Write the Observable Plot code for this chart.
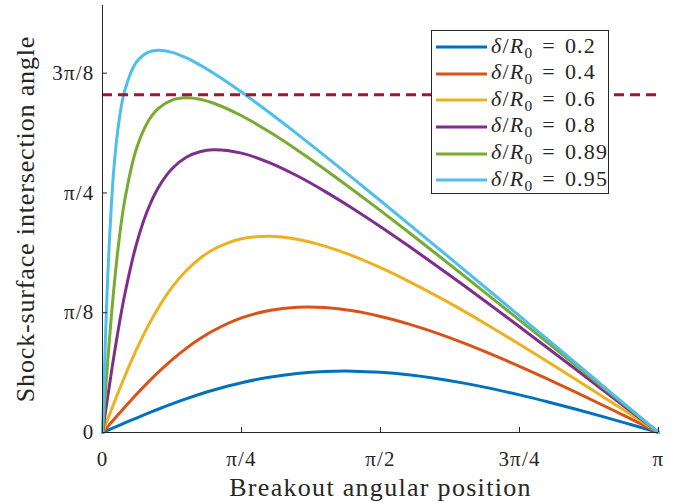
<!DOCTYPE html>
<html>
<head>
<meta charset="utf-8">
<script src="https://cdn.jsdelivr.net/npm/d3@7"></script>
<script src="https://cdn.jsdelivr.net/npm/@observablehq/plot@0.6"></script>
<style>
  body { margin: 0; background: #fff; }
  #chart { position: relative; width: 691px; height: 502px; font-family: "Liberation Serif", serif; color: #262626; }
  #legend {
    position: absolute; left: 431px; top: 30px; width: 178px; height: 164px;
    box-sizing: border-box; border: 1px solid #262626; background: #fff; padding-top: 3px;
  }
  .row { display: flex; align-items: center; height: 26.6px; }
  .row svg { margin-left: 4px; flex: none; }
  .row .lbl { margin-left: 4px; font-size: 22px; letter-spacing: 1.2px; white-space: nowrap; }
  .row .eq { margin: 0 9px; }
</style>
</head>
<body>
<div id="chart"></div>
<script>
// Breakout position θ, in units of π
const thetaOverPi = [0, 0.005, 0.01, 0.02, 0.03, 0.04, 0.06, 0.08, 0.10, 0.125, 0.15, 0.175, 0.2, 0.25, 0.3, 0.35, 0.4, 0.45, 0.5, 0.55, 0.6, 0.65, 0.7, 0.75, 0.8, 0.85, 0.9, 0.95, 1];

// Shock-surface intersection angle (rad) for each offset δ/R0
const angle02  = [0, 0.0039, 0.0079, 0.0157, 0.0235, 0.0313, 0.0466, 0.0616, 0.0762, 0.0936, 0.1100, 0.1253, 0.1393, 0.1633, 0.1813, 0.1935, 0.2000, 0.2012, 0.1974, 0.1893, 0.1773, 0.1619, 0.1438, 0.1233, 0.1008, 0.0769, 0.0519, 0.0261, 0];
const angle04  = [0, 0.0105, 0.0209, 0.0418, 0.0625, 0.0829, 0.1228, 0.1610, 0.1969, 0.2382, 0.2750, 0.3071, 0.3345, 0.3757, 0.4002, 0.4107, 0.4095, 0.3989, 0.3805, 0.3560, 0.3265, 0.2930, 0.2562, 0.2170, 0.1758, 0.1331, 0.0893, 0.0448, 0];
const angle06  = [0, 0.0236, 0.0471, 0.0936, 0.1393, 0.1837, 0.2673, 0.3422, 0.4076, 0.4757, 0.5295, 0.5706, 0.6008, 0.6351, 0.6434, 0.6337, 0.6111, 0.5792, 0.5404, 0.4965, 0.4486, 0.3978, 0.3445, 0.2895, 0.2331, 0.1757, 0.1175, 0.0589, 0];
const angle08  = [0, 0.0627, 0.1248, 0.2442, 0.3543, 0.4524, 0.6107, 0.7237, 0.8020, 0.8650, 0.9017, 0.9206, 0.9271, 0.9160, 0.8849, 0.8417, 0.7907, 0.7346, 0.6747, 0.6122, 0.5478, 0.4818, 0.4147, 0.3467, 0.2781, 0.2090, 0.1395, 0.0698, 0];
const angle089 = [0, 0.1263, 0.2479, 0.4637, 0.6339, 0.7615, 0.9247, 1.0134, 1.0616, 1.0898, 1.0973, 1.0924, 1.0794, 1.0385, 0.9858, 0.9263, 0.8625, 0.7959, 0.7273, 0.6572, 0.5861, 0.5141, 0.4416, 0.3686, 0.2953, 0.2217, 0.1479, 0.0740, 0];
const angle095 = [0, 0.2894, 0.5340, 0.8550, 1.0257, 1.1210, 1.2117, 1.2449, 1.2532, 1.2463, 1.2288, 1.2053, 1.1779, 1.1163, 1.0493, 0.9792, 0.9072, 0.8339, 0.7598, 0.6850, 0.6097, 0.5341, 0.4582, 0.3821, 0.3058, 0.2295, 0.1530, 0.0765, 0];

const offsets = ["0.2", "0.4", "0.6", "0.8", "0.89", "0.95"];
const seriesAngles = [angle02, angle04, angle06, angle08, angle089, angle095];
const seriesColors = ["#0072BD", "#D95319", "#EDB120", "#7E2F8E", "#77AC30", "#4DBEEE"];

// Critical angle shown as the dashed reference line
const criticalAngle = 1.1071;

const xTickValues = [0, Math.PI / 4, Math.PI / 2, 3 * Math.PI / 4, Math.PI];
const xTickLabels = ["0", "π/4", "π/2", "3π/4", "π"];
const yTickValues = [0, Math.PI / 8, Math.PI / 4, 3 * Math.PI / 8];
const yTickLabels = ["0", "π/8", "π/4", "3π/8"];

const xTitle = "Breakout angular position";
const yTitle = "Shock-surface intersection angle";

const seriesNames = offsets.map(o => `δ/R0 = ${o}`);
const rows = seriesAngles.flatMap((values, i) =>
  values.map((angle, j) => ({theta: thetaOverPi[j] * Math.PI, angle, series: seriesNames[i]}))
);

const xLabelOf = new Map(xTickValues.map((v, i) => [v, xTickLabels[i]]));
const yLabelOf = new Map(yTickValues.map((v, i) => [v, yTickLabels[i]]));

const W = 691, H = 502;
const mL = 102, mR = 33, mT = 5, mB = 70;
const ink = "#262626";

const chart = Plot.plot({
  width: W, height: H,
  marginLeft: mL, marginRight: mR, marginTop: mT, marginBottom: mB,
  x: {domain: [0, Math.PI], label: null},
  y: {domain: [0, 1.4], label: null},
  color: {domain: seriesNames, range: seriesColors},
  style: {fontFamily: "'Liberation Serif', serif", fontSize: "21px", color: ink, background: "#fff", overflow: "visible"},
  marks: [
    Plot.line(rows, {x: "theta", y: "angle", z: "series", stroke: "series", strokeWidth: 3, curve: "catmull-rom"}),
    Plot.ruleY([criticalAngle], {stroke: "#A2142F", strokeWidth: 3, strokeDasharray: "10,6"}),
    // axis lines (left and bottom only)
    Plot.ruleX([0], {stroke: ink, strokeWidth: 1}),
    Plot.ruleY([0], {stroke: ink, strokeWidth: 1}),
    // inward tick marks
    Plot.tickX(xTickValues, {x: d => d, stroke: ink, insetTop: H - mT - mB - 5}),
    Plot.tickY(yTickValues, {y: d => d, stroke: ink, insetRight: W - mL - mR - 5}),
    Plot.axisX({ticks: xTickValues, tickFormat: d => xLabelOf.get(d), tickSize: 0, tickPadding: 19, fontSize: 21, label: null}),
    Plot.axisY({ticks: yTickValues, tickFormat: d => yLabelOf.get(d), tickSize: 0, tickPadding: 8, fontSize: 21, label: null}),
    Plot.text([xTitle], {frameAnchor: "bottom", dy: 63, lineAnchor: "bottom", textAnchor: "middle", fontSize: 26, fill: ink}),
    Plot.text([yTitle], {frameAnchor: "left", dx: -69, rotate: -90, lineAnchor: "bottom", textAnchor: "middle", fontSize: 26, fill: ink})
  ]
});

// Letter spacing for the serif labels
const spacing = new Map([[xTitle, "1.3px"], [yTitle, "0.85px"]]);
xTickLabels.concat(yTickLabels).forEach(t => { if (!spacing.has(t)) spacing.set(t, "1.2px"); });
d3.select(chart).selectAll("text").each(function () {
  const s = spacing.get(this.textContent);
  if (s) this.style.letterSpacing = s;
});

const host = document.getElementById("chart");
host.appendChild(chart);

// Legend: line sample plus label for each series
const legend = document.createElement("div");
legend.id = "legend";
offsets.forEach((o, i) => {
  const row = document.createElement("div");
  row.className = "row";
  row.innerHTML =
    `<svg width="51" height="6"><line x1="0" x2="51" y1="3" y2="3" stroke="${seriesColors[i]}" stroke-width="3"/></svg>` +
    `<span class="lbl"><i>δ</i>/<i>R</i><sub style="font-size:0.7em">0</sub><span class="eq">=</span>${o}</span>`;
  legend.appendChild(row);
});
host.appendChild(legend);
</script>
</body>
</html>
